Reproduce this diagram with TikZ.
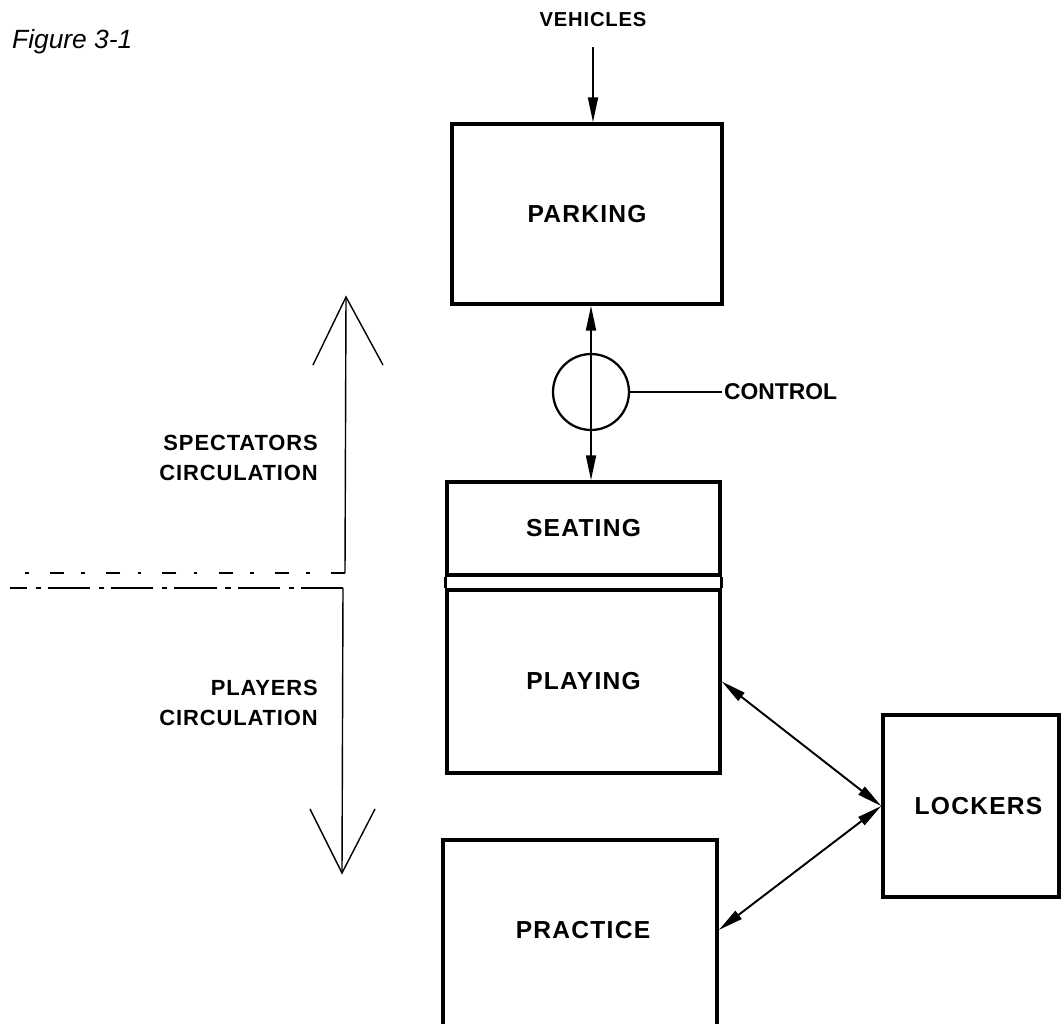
\documentclass[tikz,border=0pt]{standalone}
\usepackage{fontspec}
\setmainfont{Liberation Sans}
\newfontfamily\roomfont[LetterSpace=5]{Liberation Sans}
\newfontfamily\sidefont[LetterSpace=4]{Liberation Sans}
\usetikzlibrary{arrows.meta}

\tikzset{
  room/.style={draw, line width=2pt, minimum width=5.46cm, font=\roomfont\bfseries\fontsize{14}{17}\selectfont},
  flow/.style={line width=1.1pt, {Triangle[length=5mm,width=2mm]}-{Triangle[length=5mm,width=2mm]}},
  sidetext/.style={font=\sidefont\bfseries\fontsize{12.5}{17}\selectfont, align=right, anchor=east},
  zone/.style={line width=0.8pt},
  zoneedge/.style={line width=0.8pt, dash pattern=on 8pt off 12pt on 2pt off 10pt},
  zoneedgeb/.style={line width=0.8pt, dash pattern=on 24pt off 4pt on 3pt off 5pt}
}

\begin{document}
\begin{tikzpicture}[x=0.02cm, y=-0.02cm]
  \useasboundingbox (0,0) rectangle (1062,1024);
  % heading
  \node[anchor=west, font=\itshape\fontsize{15}{18}\selectfont] (fig) at (6,42) {Figure 3-1};
  \node[font=\sidefont\bfseries\fontsize{11.5}{14}\selectfont] (vehicles) at (593,20) {VEHICLES};
  % rooms
  \node[room, minimum width=5.4cm, minimum height=3.6cm] (parking) at (587,214) {PARKING};
  \node[room, minimum height=1.86cm] (seating) at (583.5,528.5) {SEATING};
  \node[room, minimum height=3.66cm] (playing) at (583.5,681.5) {PLAYING};
  \draw[line width=2pt] (seating.south west) -- (playing.north west)
                        (seating.south east) -- (playing.north east);
  \node[room, minimum width=5.48cm, minimum height=4.4cm] (practice) at (580,950) {};
  \node[font=\roomfont\bfseries\fontsize{14}{17}\selectfont] (practicelbl) at (583,930) {PRACTICE};
  \node[room, minimum width=3.52cm, minimum height=3.64cm] (lockers) at (971,806) {\hspace*{0.3cm}LOCKERS};
  % control point
  \node[circle, draw, line width=1.3pt, minimum size=1.52cm] (ctrl) at (591,392) {};
  \node[anchor=west, inner sep=1pt, font=\bfseries\fontsize{13}{15}\selectfont] (ctrllbl) at (722,392) {CONTROL};
  \draw[line width=0.8pt] (ctrl.east) -- (ctrllbl.west);
  % connectors
  \draw[line width=1.1pt, -{Triangle[length=5mm,width=2mm]}, shorten <=8pt] (vehicles.south) -- (vehicles.south |- parking.north);
  \draw[flow] (ctrl |- parking.south) -- (ctrl |- seating.north);
  \draw[flow] (playing.east) -- (lockers.west);
  \draw[flow] (practice.east |- practicelbl) -- (lockers.west);
  % circulation
  \coordinate (spectop) at (346,297);
  \coordinate (specfoot) at (345,573);
  \coordinate (specedge) at (10,573);
  \coordinate (playtop) at (343,588);
  \coordinate (playfoot) at (342,873);
  \coordinate (playedge) at (10,588);
  \draw[zone] (spectop) -- (specfoot);
  \draw[zone] (313,365) -- (spectop) -- (383,365);
  \draw[zoneedge] (specfoot) -- (specedge);
  \draw[zone] (playtop) -- (playfoot);
  \draw[zone] (310,809) -- (playfoot) -- (375,809);
  \draw[zoneedgeb] (playtop) -- (playedge);
  \node[sidetext] (spectators) at (324,458) {SPECTATORS\\CIRCULATION};
  \node[sidetext] (players) at (324,703) {PLAYERS\\CIRCULATION};
\end{tikzpicture}
\end{document}
